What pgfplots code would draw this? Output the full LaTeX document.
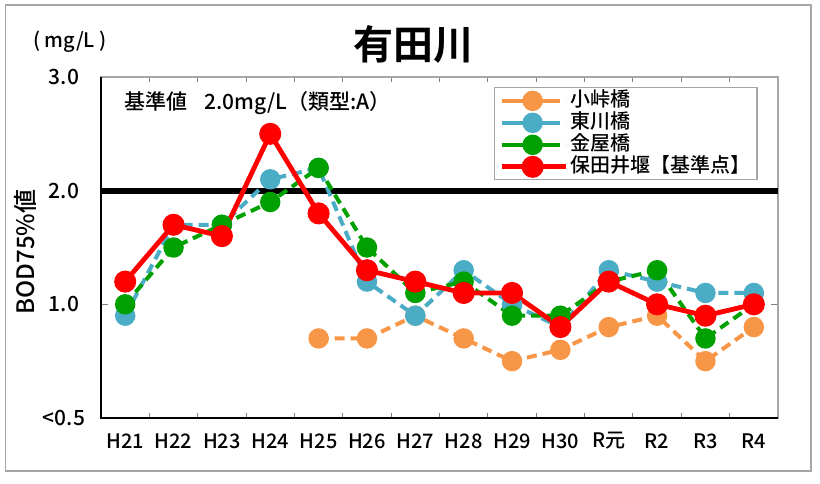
\documentclass[border=0pt]{standalone}
\usepackage{fontspec}
\setmainfont{Noto Sans CJK JP}[UprightFont={* Medium}, BoldFont={* Bold}]
\usepackage{pgfplots}
\pgfplotsset{compat=1.18}

\definecolor{cOrange}{HTML}{F79646}
\definecolor{cBlue}{HTML}{4BACC6}
\definecolor{cGreen}{HTML}{00A000}
\definecolor{cRed}{HTML}{FF0000}

\begin{document}
\begin{tikzpicture}
% page = 820 x 483 px at 0.5pt per px
\path[use as bounding box] (0pt,0pt) rectangle (410pt,241.5pt);
\draw[gray!70, line width=0.7pt] (2.75pt,6pt) rectangle (405.5pt,239pt);

\node[font=\fontsize{20pt}{24pt}\selectfont\bfseries] at (206.5pt,219.5pt) {有田川};
\node[font=\fontsize{10pt}{12pt}\selectfont] at (35pt,220.5pt) {( mg/L )};
\node[font=\fontsize{12pt}{14pt}\selectfont, rotate=90] at (12.5pt,115.5pt) {BOD75\%値};

\begin{axis}[
    at={(50.5pt,32.5pt)}, anchor=south west,
    scale only axis,
    width=338.5pt, height=170.5pt,
    xmin=-0.5, xmax=13.5,
    ymin=0, ymax=3,
    axis line style={gray!70, line width=0.6pt},
    tick align=inside,
    xtick={0,...,13},
    xticklabels={H21,H22,H23,H24,H25,H26,H27,H28,H29,H30,R元,R2,R3,R4},
    minor xtick={-0.5,0.5,...,13.5},
    major x tick style={draw=none},
    minor tick length=2.5pt,
    major tick length=3.5pt,
    every tick/.style={gray, line width=0.5pt},
    ytick={0,1,2,3},
    yticklabels={<0.5,1.0,2.0,3.0},
    xticklabel style={anchor=center, yshift=-11.5pt, font=\fontsize{10pt}{12pt}\selectfont},
    yticklabel style={anchor=center, xshift=-18.5pt, font=\fontsize{10.5pt}{12pt}\selectfont},
    clip=false,
    legend style={at={(rel axis cs:0.58,0.97)}, anchor=north west,
        draw=gray!70, line width=0.6pt, inner xsep=2.5pt, inner ysep=1pt,
        font=\fontsize{10pt}{11pt}\selectfont,
        nodes={text height=7.5pt, text depth=2pt, inner ysep=0.75pt, inner xsep=1pt}},
    legend cell align=left,
    legend image code/.code={
        \path (-4pt,0pt) -- (28pt,0pt);
        \draw[mark repeat=2,mark phase=2,#1] plot coordinates {(0pt,0pt) (11.5pt,0pt) (23pt,0pt)};},
]
% left and bottom axis lines in black
\draw[black, line width=0.8pt] (rel axis cs:0,1) -- (rel axis cs:0,0) -- (rel axis cs:1,0);
% standard value line
\draw[black, line width=3pt] (axis cs:-0.5,2) -- (axis cs:13.5,2);

% 小峠橋
\addplot[cOrange, line width=2pt, dash pattern=on 5pt off 3pt, mark=*, mark size=4.1pt, mark options={solid}]
coordinates {(4,0.7) (5,0.7) (6,0.9) (7,0.7) (8,0.5) (9,0.6) (10,0.8) (11,0.9) (12,0.5) (13,0.8)};
% 東川橋
\addplot[cBlue, line width=2pt, dash pattern=on 5pt off 3pt, mark=*, mark size=4.1pt, mark options={solid}]
coordinates {(0,0.9) (1,1.7) (2,1.7) (3,2.1) (4,2.2) (5,1.2) (6,0.9) (7,1.3) (8,1.0) (9,0.8) (10,1.3) (11,1.2) (12,1.1) (13,1.1)};
% 金屋橋
\addplot[cGreen, line width=2pt, dash pattern=on 5pt off 3pt, mark=*, mark size=4.1pt, mark options={solid}]
coordinates {(0,1.0) (1,1.5) (2,1.7) (3,1.9) (4,2.2) (5,1.5) (6,1.1) (7,1.2) (8,0.9) (9,0.9) (10,1.2) (11,1.3) (12,0.7) (13,1.0)};
% 保田井堰
\addplot[cRed, line width=2.4pt, mark=*, mark size=4.3pt]
coordinates {(0,1.2) (1,1.7) (2,1.6) (3,2.5) (4,1.8) (5,1.3) (6,1.2) (7,1.1) (8,1.1) (9,0.8) (10,1.2) (11,1.0) (12,0.9) (13,1.0)};

\legend{小峠橋,東川橋,金屋橋,保田井堰【基準点】}

\node[anchor=west, font=\fontsize{10.5pt}{12pt}\selectfont] at (rel axis cs:0.024,0.923) {基準値\hspace{0.8em}2.0mg/L（類型:A）};
\end{axis}
\end{tikzpicture}
\end{document}
